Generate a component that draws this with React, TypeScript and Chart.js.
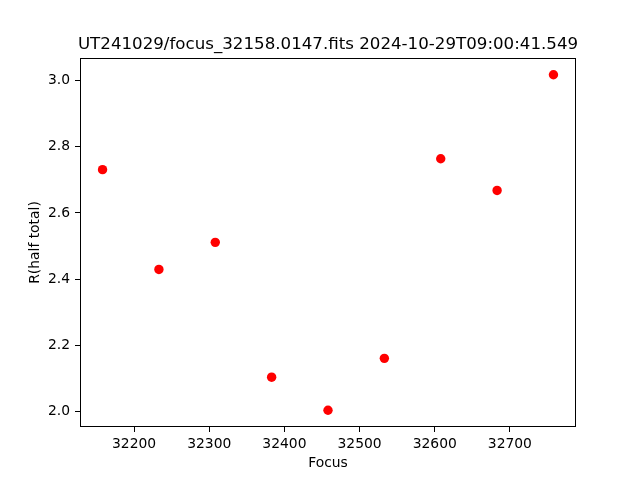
import React, { useEffect, useRef } from "react";
import { Chart, registerables } from "chart.js";

Chart.register(...registerables);

const titleText = "UT241029/focus_32158.0147.fits 2024-10-29T09:00:41.549";
const focusValues = [32158, 32233, 32308, 32383, 32458, 32533, 32608, 32683, 32758];
const radiusValues = [2.731, 2.429, 2.511, 2.103, 2.003, 2.160, 2.764, 2.668, 3.018];
const xTicks = [32200, 32300, 32400, 32500, 32600, 32700];
const yTicks = [2.0, 2.2, 2.4, 2.6, 2.8, 3.0];

const FONT = "'DejaVu Sans', sans-serif";

const framePlugin = {
  id: "frameAndTitle",
  afterDraw(chart: any) {
    const { ctx, chartArea } = chart;
    const { left, right, top, bottom } = chartArea;
    ctx.save();
    ctx.strokeStyle = "#000";
    ctx.lineWidth = 1;
    ctx.strokeRect(Math.round(left) + 0.5, Math.round(top) + 0.5, Math.round(right - left) - 1, Math.round(bottom - top) - 1);
    ctx.fillStyle = "#000";
    ctx.font = `16.67px ${FONT}`;
    ctx.textAlign = "center";
    ctx.textBaseline = "alphabetic";
    ctx.fillText(titleText, (left + right) / 2, top - 9);
    ctx.restore();
  },
};

export default function App() {
  const ref = useRef<HTMLCanvasElement>(null);
  useEffect(() => {
    if (!ref.current) return;
    const xmin = Math.min(...focusValues), xmax = Math.max(...focusValues);
    const ymin = Math.min(...radiusValues), ymax = Math.max(...radiusValues);
    const xm = (xmax - xmin) * 0.05, ym = (ymax - ymin) * 0.05;
    const chart = new Chart(ref.current, {
      type: "scatter",
      data: {
        datasets: [
          {
            data: focusValues.map((f, i) => ({ x: f, y: radiusValues[i] })),
            backgroundColor: "#ff0000",
            borderColor: "#ff0000",
            borderWidth: 0,
            pointRadius: 4.7,
          },
        ],
      },
      options: {
        responsive: false,
        animation: false,
        layout: { padding: { left: 0, right: 64, top: 58, bottom: 0 } },
        plugins: { legend: { display: false }, tooltip: { enabled: false }, title: { display: false } },
        scales: {
          x: {
            type: "linear",
            min: xmin - xm,
            max: xmax + xm,
            afterBuildTicks: (s: any) => { s.ticks = xTicks.map((v) => ({ value: v })); },
            afterFit: (s: any) => { s.height = 53; },
            border: { display: false },
            grid: { drawOnChartArea: false, drawTicks: true, tickLength: 5, tickColor: "#000", tickWidth: 1 },
            ticks: { color: "#000", font: { family: FONT, size: 13.89 }, padding: 4, maxRotation: 0, callback: (v: any) => String(v) },
            title: { display: true, text: "Focus", color: "#000", font: { family: FONT, size: 13.89 }, padding: { top: 0, bottom: 8 } },
          },
          y: {
            type: "linear",
            min: ymin - ym,
            max: ymax + ym,
            afterBuildTicks: (s: any) => { s.ticks = yTicks.map((v) => ({ value: v })); },
            afterFit: (s: any) => { s.width = 80; },
            border: { display: false },
            grid: { drawOnChartArea: false, drawTicks: true, tickLength: 5, tickColor: "#000", tickWidth: 1 },
            ticks: { color: "#000", font: { family: FONT, size: 13.89 }, padding: 5, callback: (v: any) => Number(v).toFixed(1) },
            title: { display: true, text: "R(half total)", color: "#000", font: { family: FONT, size: 13.89 }, padding: { top: 27, bottom: 0 } },
          },
        },
      },
      plugins: [framePlugin],
    });
    return () => chart.destroy();
  }, []);
  return (
    <div style={{ position: "fixed", left: 0, top: 0, width: 640, height: 480, background: "#fff" }}>
      <canvas ref={ref} width={640} height={480} />
    </div>
  );
}
